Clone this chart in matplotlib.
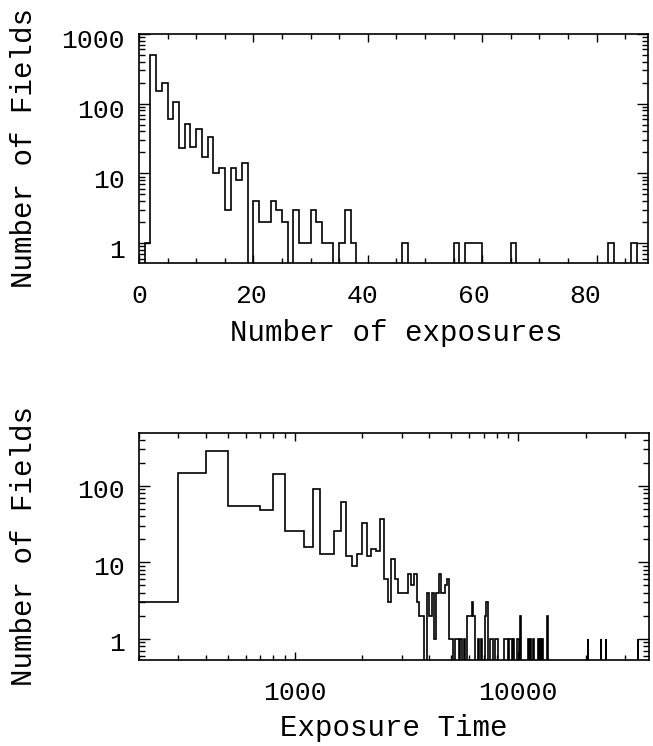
import numpy as np
import matplotlib
matplotlib.use("Agg")
import matplotlib.pyplot as plt
from matplotlib.ticker import FixedLocator, FixedFormatter, LogLocator, MultipleLocator, NullFormatter
from matplotlib.transforms import ScaledTranslation

plt.rcParams['font.family'] = ['Liberation Mono', 'DejaVu Sans Mono']

# ---------------- data: top panel (number of exposures, bins of width 1) ----------------
exp_edges_start = 0
exp_counts_head = [0, 1, 500, 150, 200, 60, 105, 23, 52, 24,
                   43, 17, 33, 10, 12, 3, 12, 8, 14, 0,
                   4, 2, 2, 4, 3, 2, 0, 3, 1, 1,
                   3, 2, 1, 1, 0, 1, 3, 1, 0]
exp_tail_bins = [46, 55, 57, 58, 59, 65, 82, 86]
exp_tail_counts = [1, 1, 1, 1, 1, 1, 1, 1]
exp_nbins = 89
exp_ticks = [0, 20, 40, 60, 80]
exp_tick_labels = ['0', '20', '40', '60', '80']

# ---------------- data: bottom panel (exposure time, bins of width 100) ----------------
time_bin_width = 100
time_first_bin = 200
time_counts_head = [3, 145, 286, 54, 54, 48, 142, 26, 26, 16,
                    92, 13, 13, 26, 62, 12, 9, 13, 33, 12,
                    15, 14, 37, 6, 3, 11, 6, 4, 4, 4,
                    7, 5, 7, 3, 2, 2, 0, 4, 2, 4,
                    1, 4, 7, 4, 4, 5, 6]
time_tail_bins = [4900, 5000, 5200, 5300, 5500, 5700, 5900, 6000, 6100, 6200,
                  6300, 6600, 6800, 7100, 7200, 7500, 7600, 7900, 8000, 8600,
                  8700, 8800, 8900, 9100, 9200, 9300, 9500, 9900, 10000, 10200,
                  11100, 11300, 11600, 12200, 12300, 12500, 12600, 12800, 13500,
                  20500, 23400, 24700, 34400]
time_tail_counts = [1, 1, 1, 1, 1, 1, 2, 2, 2, 3,
                    2, 1, 1, 2, 3, 1, 1, 1, 1, 1,
                    1, 1, 1, 1, 1, 1, 1, 1, 1, 2,
                    1, 1, 1, 1, 1, 1, 1, 1, 2,
                    1, 1, 1, 1]
time_last_edge = 38500

# ---------------- build histograms ----------------
exp_counts = np.zeros(exp_nbins)
exp_counts[:len(exp_counts_head)] = exp_counts_head
for b, c in zip(exp_tail_bins, exp_tail_counts):
    exp_counts[b] = c
exp_edges = np.arange(exp_edges_start, exp_edges_start + exp_nbins + 1)

time_edges = np.arange(time_first_bin, time_last_edge + time_bin_width, time_bin_width)
time_counts = np.zeros(len(time_edges) - 1)
time_counts[:len(time_counts_head)] = time_counts_head
for b, c in zip(time_tail_bins, time_tail_counts):
    time_counts[(b - time_first_bin) // time_bin_width] = c

floor = 1e-3  # zero bins drawn down past the axis bottom (clipped)

fig = plt.figure(figsize=(6.53, 7.46), dpi=100)
W, H = 653, 746
ax1 = fig.add_axes([139 / W, 1 - 263 / H, (648 - 139) / W, (263 - 34) / H])
ax2 = fig.add_axes([139 / W, 1 - 660 / H, (649 - 139) / W, (660 - 433) / H])

lw = 1.2
ax1.stairs(np.where(exp_counts > 0, exp_counts, floor), exp_edges,
           baseline=None, color='black', lw=lw)
ax2.stairs(np.where(time_counts > 0, time_counts, floor), time_edges,
           baseline=None, color='black', lw=lw)

tick_fs = 19
label_fs = 21

# top panel axes
ax1.set_yscale('log')
ax1.set_xlim(0, 89)
ax1.set_ylim(0.52, 1000)
ax1.xaxis.set_major_locator(FixedLocator(exp_ticks))
ax1.xaxis.set_major_formatter(FixedFormatter(exp_tick_labels))
ax1.xaxis.set_minor_locator(MultipleLocator(5))
ax1.yaxis.set_major_locator(FixedLocator([1, 10, 100, 1000]))
ax1.yaxis.set_major_formatter(FixedFormatter(['1', '10', '100', '1000']))
ax1.yaxis.set_minor_locator(LogLocator(base=10, subs=np.arange(2, 10)))
ax1.yaxis.set_minor_formatter(NullFormatter())
ax1.set_xlabel('Number of exposures', fontsize=label_fs, va='center')
ax1.set_ylabel('Number of Fields', fontsize=label_fs, va='center')
ax1.xaxis.set_label_coords(0.505, -0.305)
ax1.yaxis.set_label_coords(-0.225, 0.5)

# bottom panel axes
ax2.set_xscale('log')
ax2.set_yscale('log')
ax2.set_xlim(200, 38500)
ax2.set_ylim(0.53, 490)
ax2.xaxis.set_major_locator(FixedLocator([1000, 10000]))
ax2.xaxis.set_major_formatter(FixedFormatter(['1000', '10000']))
ax2.xaxis.set_minor_locator(LogLocator(base=10, subs=np.arange(2, 10)))
ax2.xaxis.set_minor_formatter(NullFormatter())
ax2.yaxis.set_major_locator(FixedLocator([1, 10, 100]))
ax2.yaxis.set_major_formatter(FixedFormatter(['1', '10', '100']))
ax2.yaxis.set_minor_locator(LogLocator(base=10, subs=np.arange(2, 10)))
ax2.yaxis.set_minor_formatter(NullFormatter())
ax2.set_xlabel('Exposure Time', fontsize=label_fs, va='center')
ax2.set_ylabel('Number of Fields', fontsize=label_fs, va='center')
ax2.xaxis.set_label_coords(0.50, -0.30)
ax2.yaxis.set_label_coords(-0.225, 0.5)

for ax in (ax1, ax2):
    for s in ax.spines.values():
        s.set_linewidth(1.2)
    ax.tick_params(which='both', direction='in', top=True, right=True,
                   labelsize=tick_fs, width=1.0, colors='black')
    ax.tick_params(axis='x', which='major', length=6, pad=15)
    ax.tick_params(axis='x', which='minor', length=3.5)
    ax.tick_params(axis='y', which='major', length=8, pad=10)
    ax.tick_params(axis='y', which='minor', length=4.3)

# small label offsets as in the original plotting package
for tick, v in zip(ax1.xaxis.get_major_ticks(), exp_ticks):
    dx = -0.14 * v / 100.0  # inches (pixels / dpi)
    tick.label1.set_transform(tick.label1.get_transform()
                              + ScaledTranslation(dx, 0, fig.dpi_scale_trans))
for ax, dy_px in ((ax1, 5), (ax2, 3)):
    for tick in ax.yaxis.get_major_ticks():
        tick.label1.set_transform(tick.label1.get_transform()
                                  + ScaledTranslation(0, -dy_px / 100.0, fig.dpi_scale_trans))

fig.savefig('out.png', dpi=100)
